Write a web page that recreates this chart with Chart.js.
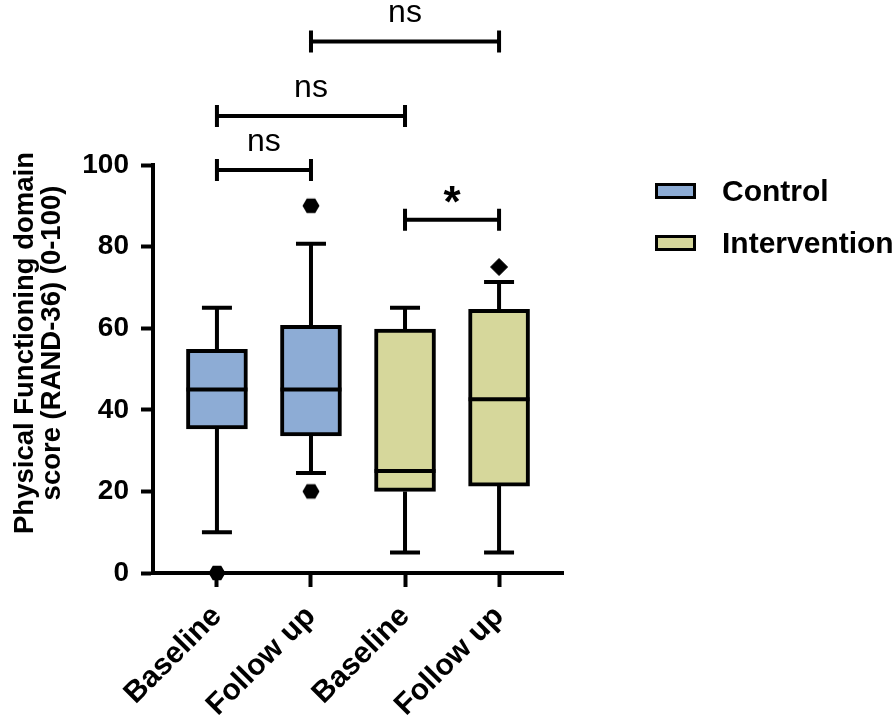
<!DOCTYPE html>
<html>
<head>
<meta charset="utf-8">
<script src="https://cdn.jsdelivr.net/npm/chart.js@4/dist/chart.umd.min.js"></script>
<style>
  body { margin: 0; background: #fff; }
  #wrap { position: relative; width: 896px; height: 724px; }
  .leg { position: absolute; left: 655px; display: flex; align-items: center;
         font: bold 30px "Liberation Sans", Arial, sans-serif; color: #000; }
  .leg span.sw { display: inline-block; width: 35px; height: 10px; border: 3.5px solid #000; margin-right: 26px; }
</style>
</head>
<body>
<div id="wrap">
  <canvas id="c" width="896" height="724"></canvas>
  <div class="leg" style="top:174px"><span class="sw" style="background:#8DACD5"></span>Control</div>
  <div class="leg" style="top:226px"><span class="sw" style="background:#D6D79B"></span>Intervention</div>
</div>
<script>
// box plot values
const categories = ['Baseline', 'Follow up', 'Baseline', 'Follow up'];
const groups = ['Control', 'Control', 'Intervention', 'Intervention'];
const whiskerMin = [10, 24.5, 5, 5];
const q1 = [35.3, 33.6, 20, 21.3];
const median = [45, 45, 25, 42.6];
const q3 = [54.8, 60.7, 59.8, 64.6];
const whiskerMax = [65, 80.7, 65, 71.3];
const controlOutliers = [{ x: 0, y: 0 }, { x: 1, y: 90 }, { x: 1, y: 20 }];
const interventionOutliers = [{ x: 3, y: 75 }];
const yTicks = [0, 20, 40, 60, 80, 100];
const yTitle = ['Physical Functioning domain', 'score (RAND-36) (0-100)'];

// significance brackets (from, to, level in y units, label)
const bracketFrom = [0, 0, 1, 2];
const bracketTo = [1, 2, 3, 3];
const bracketLevel = [98.8, 112, 130.3, 86.6];
const bracketLabel = ['ns', 'ns', 'ns', '*'];

const groupColor = { Control: '#8DACD5', Intervention: '#D6D79B' };

Chart.defaults.font.family = '"Liberation Sans", Arial, sans-serif';
Chart.defaults.color = '#000';

// hexagon marker for the control outliers
const hex = document.createElement('canvas');
hex.width = 18; hex.height = 18;
(() => {
  const g = hex.getContext('2d');
  g.fillStyle = '#000';
  g.beginPath();
  for (let k = 0; k < 6; k++) {
    const a = k * Math.PI / 3;
    const px = 9 + 8.5 * Math.cos(a), py = 9 + 8.5 * Math.sin(a);
    k ? g.lineTo(px, py) : g.moveTo(px, py);
  }
  g.closePath();
  g.fill();
})();

const LW = 4;

const boxExtras = {
  id: 'boxExtras',
  beforeDatasetsDraw(chart) {
    const { ctx, scales: { x, y } } = chart;
    ctx.save();
    ctx.strokeStyle = '#000';
    ctx.lineWidth = LW;
    categories.forEach((c, i) => {
      const px = x.getPixelForValue(i);
      const half = 15;
      ctx.beginPath();
      ctx.moveTo(px, y.getPixelForValue(q3[i]));
      ctx.lineTo(px, y.getPixelForValue(whiskerMax[i]));
      ctx.moveTo(px - half, y.getPixelForValue(whiskerMax[i]));
      ctx.lineTo(px + half, y.getPixelForValue(whiskerMax[i]));
      ctx.moveTo(px, y.getPixelForValue(q1[i]));
      ctx.lineTo(px, y.getPixelForValue(whiskerMin[i]));
      ctx.moveTo(px - half, y.getPixelForValue(whiskerMin[i]));
      ctx.lineTo(px + half, y.getPixelForValue(whiskerMin[i]));
      ctx.stroke();
    });
    ctx.restore();
  },
  afterDatasetsDraw(chart) {
    const { ctx, scales: { y } } = chart;
    const bars = chart.getDatasetMeta(0).data;
    ctx.save();
    ctx.strokeStyle = '#000';
    ctx.lineWidth = LW;
    bars.forEach((b, i) => {
      const py = y.getPixelForValue(median[i]);
      ctx.beginPath();
      ctx.moveTo(b.x - b.width / 2, py);
      ctx.lineTo(b.x + b.width / 2, py);
      ctx.stroke();
    });
    ctx.restore();
  },
  afterDraw(chart) {
    const { ctx, chartArea, scales: { x, y } } = chart;
    ctx.save();
    ctx.strokeStyle = '#000';
    ctx.fillStyle = '#000';
    ctx.lineWidth = LW;
    ctx.textAlign = 'center';
    bracketLevel.forEach((lv, i) => {
      const x0 = x.getPixelForValue(bracketFrom[i]);
      const x1 = x.getPixelForValue(bracketTo[i]);
      const py = y.getPixelForValue(lv);
      ctx.beginPath();
      ctx.moveTo(x0, py); ctx.lineTo(x1, py);
      ctx.moveTo(x0, py - 11); ctx.lineTo(x0, py + 11);
      ctx.moveTo(x1, py - 11); ctx.lineTo(x1, py + 11);
      ctx.stroke();
      if (bracketLabel[i] === '*') {
        ctx.font = 'bold 44px "Liberation Sans", Arial, sans-serif';
        ctx.fillText(bracketLabel[i], (x0 + x1) / 2, py - 3);
      } else {
        ctx.font = '32px "Liberation Sans", Arial, sans-serif';
        ctx.fillText(bracketLabel[i], (x0 + x1) / 2, py - 19);
      }
    });

    // y axis title, sits a bit above the plot centre like the original
    ctx.font = 'bold 27.5px "Liberation Sans", Arial, sans-serif';
    ctx.textBaseline = 'middle';
    ctx.translate(0, (chartArea.top + chartArea.bottom) / 2 - 26);
    ctx.rotate(-Math.PI / 2);
    yTitle.forEach((t, i) => ctx.fillText(t, 0, 25 + i * 27));
    ctx.restore();
  }
};

new Chart(document.getElementById('c'), {
  type: 'bar',
  data: {
    datasets: [
      {
        label: 'Box',
        data: categories.map((c, i) => ({ x: i, y: [q1[i], q3[i]] })),
        backgroundColor: groups.map(g => groupColor[g]),
        borderColor: '#000',
        borderWidth: LW,
        borderSkipped: false,
        barThickness: 61
      },
      {
        type: 'scatter',
        label: 'Control outliers',
        data: controlOutliers,
        pointStyle: hex,
        backgroundColor: '#000',
        clip: false
      },
      {
        type: 'scatter',
        label: 'Intervention outliers',
        data: interventionOutliers,
        pointStyle: 'rectRot',
        pointRadius: 8.5,
        backgroundColor: '#000',
        borderColor: '#000',
        clip: false
      }
    ]
  },
  options: {
    responsive: false,
    animation: false,
    layout: { padding: { top: 165, right: 333, left: 0, bottom: 0 } },
    plugins: { legend: { display: false }, tooltip: { enabled: false } },
    scales: {
      x: {
        type: 'linear',
        min: -0.68,
        max: 3.68,
        offset: false,
        afterFit: s => { s.height = 151; },
        afterBuildTicks: s => { s.ticks = categories.map((c, i) => ({ value: i })); },
        border: { color: '#000', width: LW },
        grid: { offset: false, drawOnChartArea: false, tickLength: 14, tickWidth: LW, tickColor: '#000' },
        ticks: {
          autoSkip: false,
          minRotation: 45,
          maxRotation: 45,
          padding: 12,
          font: { size: 30, weight: 'bold' },
          callback: v => categories[v]
        }
      },
      y: {
        min: 0,
        max: 100,
        afterFit: s => { s.width = 153; },
        afterBuildTicks: s => { s.ticks = yTicks.map(v => ({ value: v })); },
        border: { color: '#000', width: LW },
        grid: { drawOnChartArea: false, tickLength: 12, tickWidth: LW, tickColor: '#000' },
        ticks: { padding: 12, font: { size: 28, weight: 'bold' } }
      }
    }
  },
  plugins: [boxExtras]
});
</script>
</body>
</html>
